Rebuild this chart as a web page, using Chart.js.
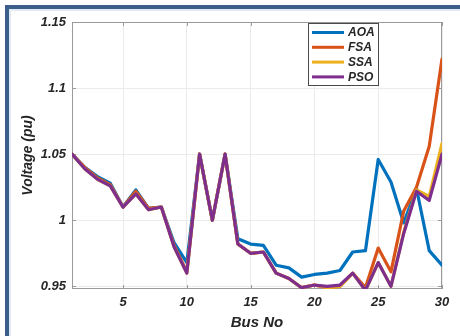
<!DOCTYPE html>
<html>
<head>
<meta charset="utf-8">
<script src="https://cdn.jsdelivr.net/npm/chart.js@4/dist/chart.umd.min.js"></script>
<style>
  html, body { margin: 0; padding: 0; background: #fff; overflow: hidden; }
  #wrap { position: relative; width: 460px; height: 336px; overflow: hidden; background: #fff; }
  .bar { position: absolute; background: #3b5e8c; }
  .edge { position: absolute; background: #e2eaf4; }
  #voltage-chart { position: absolute; left: 0; top: 0; display: block; }
</style>
</head>
<body>
<div id="wrap">
  <div class="bar" style="left:5px; top:5px; width:455px; height:4px"></div>
  <div class="bar" style="left:5px; top:5px; width:4px; height:331px"></div>
  <div class="edge" style="left:9px; top:9px; width:451px; height:2px"></div>
  <div class="edge" style="left:9px; top:9px; width:2px; height:327px"></div>
  <canvas id="voltage-chart" width="460" height="336"></canvas>
</div>
<script>
// bus voltage profile, IEEE 30-bus, four optimisers
const buses = [1, 2, 3, 4, 5, 6, 7, 8, 9, 10, 11, 12, 13, 14, 15,
               16, 17, 18, 19, 20, 21, 22, 23, 24, 25, 26, 27, 28, 29, 30];
const aoa = [1.050, 1.040, 1.033, 1.028, 1.010, 1.023, 1.009, 1.010, 0.983, 0.968,
             1.050, 1.000, 1.050, 0.986, 0.982, 0.981, 0.966, 0.964, 0.957, 0.959,
             0.960, 0.962, 0.976, 0.977, 1.046, 1.029, 0.998, 1.024, 0.977, 0.966];
const fsa = [1.050, 1.040, 1.032, 1.027, 1.010, 1.022, 1.009, 1.010, 0.981, 0.961,
             1.050, 1.000, 1.050, 0.982, 0.975, 0.976, 0.960, 0.956, 0.949, 0.951,
             0.949, 0.950, 0.960, 0.949, 0.979, 0.961, 1.007, 1.025, 1.056, 1.122];
const ssa = [1.050, 1.039, 1.031, 1.026, 1.010, 1.020, 1.008, 1.010, 0.980, 0.960,
             1.050, 1.000, 1.050, 0.982, 0.975, 0.976, 0.960, 0.956, 0.949, 0.951,
             0.949, 0.950, 0.960, 0.947, 0.968, 0.950, 0.991, 1.023, 1.018, 1.058];
const pso = [1.050, 1.039, 1.031, 1.026, 1.010, 1.020, 1.008, 1.010, 0.980, 0.960,
             1.050, 1.000, 1.050, 0.982, 0.975, 0.976, 0.960, 0.956, 0.949, 0.951,
             0.950, 0.951, 0.960, 0.947, 0.968, 0.950, 0.990, 1.022, 1.015, 1.050];

const seriesNames = ["AOA", "FSA", "SSA", "PSO"];
const seriesData = [aoa, fsa, ssa, pso];
const seriesColors = ["#0072BD", "#D95319", "#EDB120", "#7E2F8E"];

const xTicks = [5, 10, 15, 20, 25, 30];
const yTicks = [0.95, 1, 1.05, 1.1, 1.15];

const FONT = "'Liberation Sans', Arial, sans-serif";
const TEXT = "#262626";

// axes box, inward tick marks and the boxed legend, drawn the MATLAB way
const matlabAxes = {
  id: 'matlabAxes',
  beforeDatasetsDraw(chart) {
    const { ctx, chartArea: a, scales } = chart;
    const len = 4;
    ctx.save();
    ctx.strokeStyle = "#9a9a9a";
    ctx.lineWidth = 1;
    ctx.strokeRect(a.left + 0.5, a.top + 0.5, a.right - a.left - 1, a.bottom - a.top - 1);
    ctx.beginPath();
    yTicks.forEach(v => {
      const y = Math.round(scales.y.getPixelForValue(v)) + 0.5;
      ctx.moveTo(a.left, y); ctx.lineTo(a.left + len, y);
      ctx.moveTo(a.right, y); ctx.lineTo(a.right - len, y);
    });
    xTicks.forEach(v => {
      const x = Math.round(scales.x.getPixelForValue(v)) + 0.5;
      ctx.moveTo(x, a.bottom); ctx.lineTo(x, a.bottom - len);
      ctx.moveTo(x, a.top); ctx.lineTo(x, a.top + len);
    });
    ctx.stroke();
    ctx.restore();
  },
  afterDatasetsDraw(chart) {
    const { ctx, chartArea: a } = chart;
    const box = { x: 308, y: a.top + 1, w: 70, h: 62 };
    ctx.save();
    ctx.fillStyle = "#fff";
    ctx.fillRect(box.x, box.y, box.w, box.h);
    ctx.strokeStyle = "#4a4a4a";
    ctx.lineWidth = 1;
    ctx.strokeRect(box.x + 0.5, box.y + 0.5, box.w, box.h);
    ctx.font = "italic bold 12px " + FONT;
    ctx.textBaseline = "middle";
    seriesNames.forEach((name, i) => {
      const y = box.y + 9.5 + i * 14.8;
      ctx.strokeStyle = seriesColors[i];
      ctx.lineWidth = 3;
      ctx.beginPath();
      ctx.moveTo(box.x + 4, y);
      ctx.lineTo(box.x + 36, y);
      ctx.stroke();
      ctx.fillStyle = TEXT;
      ctx.fillText(name, box.x + 40, y + 0.5);
    });
    ctx.restore();
  }
};

const ctx = document.getElementById('voltage-chart').getContext('2d');
new Chart(ctx, {
  type: 'line',
  data: {
    datasets: seriesNames.map((name, i) => ({
      label: name,
      data: buses.map((b, j) => ({ x: b, y: seriesData[i][j] })),
      borderColor: seriesColors[i],
      backgroundColor: seriesColors[i],
      borderWidth: 3.2,
      borderJoinStyle: 'round',
      borderCapStyle: 'round',
      pointRadius: 0,
      tension: 0,
      // later series sit on top, as in the original plot order
      order: seriesNames.length - i
    }))
  },
  options: {
    responsive: false,
    animation: false,
    layout: { padding: { left: 0, top: 22, right: 18, bottom: 0 } },
    plugins: { legend: { display: false }, tooltip: { enabled: false } },
    scales: {
      x: {
        type: 'linear',
        min: 1,
        max: 30,
        afterBuildTicks: s => { s.ticks = xTicks.map(v => ({ value: v })); },
        afterFit: s => { s.height = 47; },
        grid: { color: "#ebebeb", drawTicks: false },
        border: { display: false },
        ticks: {
          padding: 6,
          color: TEXT,
          font: { family: FONT, size: 13, weight: 'bold', style: 'italic' },
          maxRotation: 0,
          callback: v => String(v)
        },
        title: {
          display: true,
          text: 'Bus No',
          color: TEXT,
          padding: { top: 0, bottom: 4 },
          font: { family: FONT, size: 15, weight: 'bold', style: 'italic' }
        }
      },
      y: {
        min: 0.948,
        max: 1.15,
        afterBuildTicks: s => { s.ticks = yTicks.map(v => ({ value: v })); },
        afterFit: s => { s.width = 72; },
        grid: { color: "#ebebeb", drawTicks: false },
        border: { display: false },
        ticks: {
          padding: 6,
          color: TEXT,
          font: { family: FONT, size: 13, weight: 'bold', style: 'italic' },
          callback: v => String(v)
        },
        title: {
          display: true,
          text: 'Voltage (pu)',
          color: TEXT,
          padding: { top: 20, bottom: 0 },
          font: { family: FONT, size: 14, weight: 'bold', style: 'italic' }
        }
      }
    }
  },
  plugins: [matlabAxes]
});
</script>
</body>
</html>
